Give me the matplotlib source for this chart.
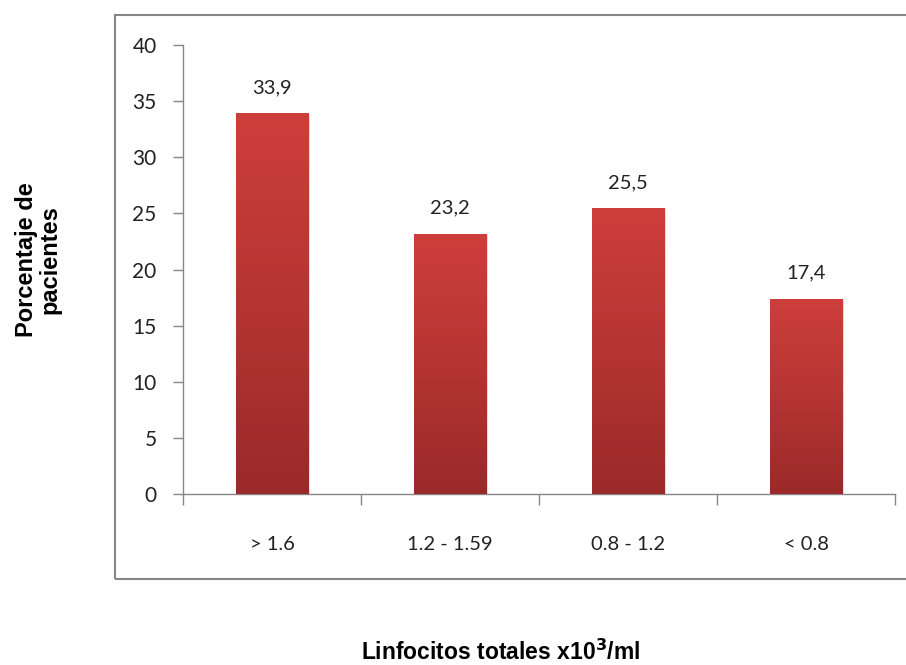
import numpy as np
import matplotlib.pyplot as plt
from matplotlib.colors import LinearSegmentedColormap
from matplotlib.patches import Rectangle

categories = ['> 1.6', '1.2 - 1.59', '0.8 - 1.2', '< 0.8']
values = [33.9, 23.2, 25.5, 17.4]
labels = ['33,9', '23,2', '25,5', '17,4']
yticks = [0, 5, 10, 15, 20, 25, 30, 35, 40]

plt.rcParams['font.family'] = ['Lato', 'DejaVu Sans']

fig = plt.figure(figsize=(9.06, 6.65), dpi=100)

# outer frame (Excel chart area)
frame = Rectangle((115 / 906, 1 - 579 / 665), 1.0, (579 - 15) / 665,
                  transform=fig.transFigure, fill=False,
                  edgecolor='#868686', linewidth=1.5, clip_on=False)
fig.patches.append(frame)

ax = fig.add_axes([183 / 906, 1 - 494 / 665, (895 - 183) / 906, (494 - 45) / 665])

x = np.arange(len(categories))
cmap = LinearSegmentedColormap.from_list('bar', ['#9A2A29', '#B53533', '#CE3E3B'])
grad = np.linspace(0, 1, 256).reshape(-1, 1)

bars = ax.bar(x, values, width=0.405, color='none', edgecolor='none', zorder=3)
for b, lab in zip(bars, labels):
    x0, w, h = b.get_x(), b.get_width(), b.get_height()
    # soft shadow on the right
    ax.add_patch(Rectangle((x0 + 0.012, 0), w, h - 0.15, facecolor='#000000',
                           alpha=0.12, edgecolor='none', zorder=2))
    im = ax.imshow(grad, extent=[x0, x0 + w, 0, h], origin='lower',
                   cmap=cmap, aspect='auto', zorder=3, interpolation='bilinear')
    im.set_clip_path(b)
    ax.text(x0 + w / 2, h + 1.5, lab, ha='center', va='bottom',
            fontsize=14.5, color='#222222')

ax.set_xlim(-0.5, len(categories) - 0.5)
ax.set_ylim(0, 40)

ax.set_yticks(yticks)
ax.set_yticklabels([str(t) for t in yticks], fontsize=15)
ax.tick_params(axis='y', direction='out', length=7, width=1, color='#868686',
               pad=12, labelcolor='#222222')

ax.set_xticks(np.arange(len(categories) + 1) - 0.5)
ax.set_xticklabels([])
ax.tick_params(axis='x', which='major', direction='out', length=8, width=1,
               color='#868686')
ax.set_xticks(x, minor=True)
ax.set_xticklabels(categories, minor=True, fontsize=14.5, color='#222222')
ax.tick_params(axis='x', which='minor', length=0, pad=30)

for s in ['top', 'right']:
    ax.spines[s].set_visible(False)
for s in ['left', 'bottom']:
    ax.spines[s].set_color('#868686')
    ax.spines[s].set_linewidth(1)

fig.text(501 / 906, 1 - 660 / 665, r'Linfocitos totales x10$^{\mathbf{3}}$/ml',
         ha='center', va='baseline', fontsize=16.5, fontweight='bold',
         family='Liberation Sans')
fig.text(38 / 906, 1 - 260 / 665, 'Porcentaje de\npacientes', rotation=90,
         ha='center', va='center', fontsize=17, fontweight='bold',
         family='Liberation Sans', linespacing=1.05, multialignment='center')

fig.savefig('out.png', dpi=100)
